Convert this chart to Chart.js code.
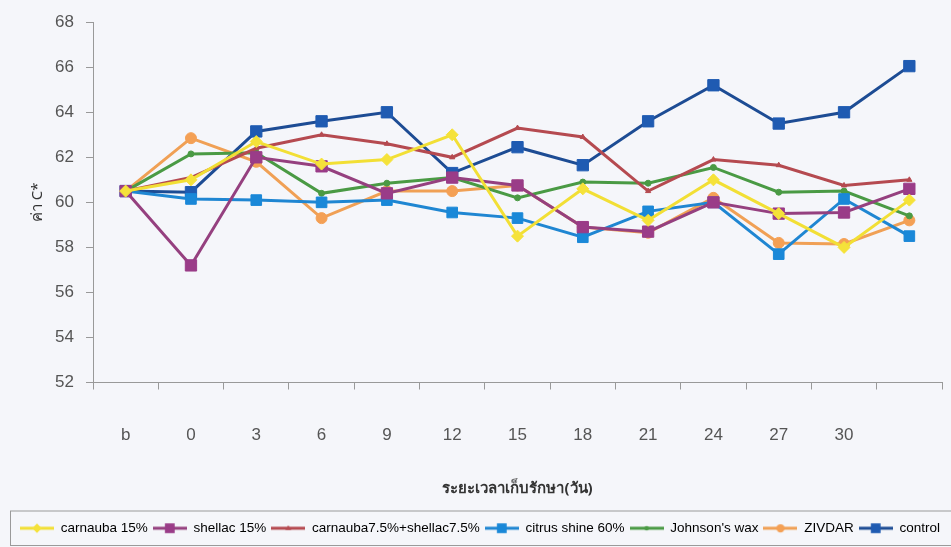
<!DOCTYPE html>
<html>
<head>
<meta charset="utf-8">
<script src="https://cdn.jsdelivr.net/npm/chart.js@4"></script>
<style>
html,body{margin:0;padding:0;background:#f5f6fa;}
#wrap{width:951px;height:547px;position:relative;}
</style>
</head>
<body>
<div id="wrap"><canvas id="c" width="951" height="547"></canvas></div>
<script>
const categories = ['b','0','3','6','9','12','15','18','21','24','27','30',''];
const seriesNames = ['carnauba 15%','shellac 15%','carnauba7.5%+shellac7.5%','citrus shine 60%',"Johnson's wax",'ZIVDAR','control'];
const carnauba15 = [60.5, 61.0, 62.7, 61.7, 61.9, 63.0, 58.5, 60.6, 59.2, 61.0, 59.5, 58.0, 60.1];
const shellac15  = [60.5, 57.2, 62.0, 61.6, 60.4, 61.1, 60.75, 58.9, 58.7, 60.0, 59.5, 59.55, 60.6];
const carnaubaShellac = [60.5, 61.1, 62.4, 63.0, 62.6, 62.0, 63.3, 62.9, 60.5, 61.9, 61.65, 60.75, 61.0];
const citrusShine = [60.5, 60.15, 60.1, 60.0, 60.1, 59.55, 59.3, 58.45, 59.6, 60.0, 57.7, 60.15, 58.5];
const johnsonsWax = [60.5, 62.15, 62.2, 60.4, 60.85, 61.1, 60.2, 60.9, 60.85, 61.55, 60.45, 60.5, 59.4];
const zivdar = [60.5, 62.85, 61.8, 59.3, 60.5, 60.5, 60.75, 58.9, 58.65, 60.2, 58.2, 58.15, 59.2];
const control = [60.5, 60.45, 63.15, 63.6, 64.0, 61.3, 62.45, 61.65, 63.6, 65.2, 63.5, 64.0, 66.05];
const yMin = 52, yMax = 68, yStep = 2;

const styles = [
  {line:'#f2df35', fill:'#f5e23a', ps:'rectRot', r:6},
  {line:'#95407f', fill:'#9a3c88', ps:'rect', r:8},
  {line:'#b54a50', fill:'#b54a50', ps:'triangle', r:3},
  {line:'#1f86d2', fill:'#1a88d8', ps:'rect', r:7.5},
  {line:'#4a9a44', fill:'#4a9a44', ps:'circle', r:3},
  {line:'#f0a055', fill:'#f4a055', ps:'circle', r:5.5},
  {line:'#1d4c94', fill:'#1f5bb2', ps:'rect', r:8}
];
const values = [carnauba15, shellac15, carnaubaShellac, citrusShine, johnsonsWax, zivdar, control];
const ICON_W = 34;

function legendIcon(s){
  const cv = document.createElement('canvas');
  cv.width = ICON_W; cv.height = 14;
  const g = cv.getContext('2d');
  const c = ICON_W/2;
  g.strokeStyle = s.line; g.lineWidth = 3;
  g.beginPath(); g.moveTo(0,7); g.lineTo(ICON_W,7); g.stroke();
  g.fillStyle = s.fill;
  const r = Math.min(s.r, 6.5);
  if (s.ps === 'rect'){ const h = r*0.75; g.fillRect(c-h,7-h,2*h,2*h); }
  else if (s.ps === 'rectRot'){ g.beginPath(); g.moveTo(c,7-r*0.8); g.lineTo(c+r*0.8,7); g.lineTo(c,7+r*0.8); g.lineTo(c-r*0.8,7); g.closePath(); g.fill(); }
  else if (s.ps === 'circle'){ g.beginPath(); g.arc(c,7,r*0.75,0,Math.PI*2); g.fill(); }
  else { g.beginPath(); g.moveTo(c,7-r); g.lineTo(c+r,7+r*0.6); g.lineTo(c-r,7+r*0.6); g.closePath(); g.fill(); }
  return cv;
}
const icons = styles.map(legendIcon);

const datasets = seriesNames.map((n,i)=>({
  label:n, data:values[i],
  borderColor:styles[i].line, backgroundColor:styles[i].fill,
  pointBackgroundColor:styles[i].fill, pointBorderColor:styles[i].fill,
  pointStyle:styles[i].ps, pointRadius:styles[i].r, pointBorderWidth:1,
  borderWidth:3, tension:0, fill:false
}));

const legendBorder = {
  id:'legendBorder',
  afterDraw(chart){
    const l = chart.legend; const ctx = chart.ctx;
    ctx.save(); ctx.strokeStyle = '#9a9a9a'; ctx.lineWidth = 1;
    ctx.strokeRect(10.5, l.top - 5.5, 950, l.height + 6);
    ctx.restore();
  }
};

new Chart(document.getElementById('c'), {
  type:'line',
  data:{labels:categories, datasets},
  plugins:[legendBorder],
  options:{
    responsive:false, animation:false,
    layout:{padding:{left:0,right:6,top:15,bottom:2}},
    plugins:{
      tooltip:{enabled:false},
      legend:{
        position:'bottom', align:'end',
        labels:{
          usePointStyle:true, pointStyleWidth:ICON_W, boxHeight:14, padding:5,
          color:'#555', font:{family:'Liberation Sans, Arial', size:13.5},
          generateLabels(chart){
            return chart.data.datasets.map((d,i)=>({
              text:d.label, pointStyle:icons[i], fillStyle:d.backgroundColor,
              strokeStyle:d.borderColor, lineWidth:0, datasetIndex:i, hidden:false
            }));
          }
        }
      }
    },
    scales:{
      x:{
        offset:true,
        grid:{offset:true, drawOnChartArea:false, tickLength:7, color:'#999', tickColor:'#999'},
        border:{color:'#999', width:1},
        ticks:{padding:36, color:'#555', font:{family:'Liberation Sans Narrow, Liberation Sans, Arial', size:17}, maxRotation:0, autoSkip:false},
        title:{display:true, text:'ระยะเวลาเก็บรักษา(วัน)', color:'#333', font:{family:'Noto Sans, DejaVu Sans, sans-serif', size:15, weight:'bold'}, padding:{top:18,bottom:19}},
        afterFit(s){ s.height = 134; }
      },
      y:{
        min:yMin, max:yMax,
        ticks:{stepSize:yStep, padding:12, color:'#555', font:{family:'Liberation Sans Narrow, Liberation Sans, Arial', size:17}},
        grid:{drawOnChartArea:false, tickLength:7, color:'#999', tickColor:'#999'},
        border:{color:'#999', width:1},
        title:{display:true, text:'ค่า C*', color:'#333', font:{family:'Noto Sans, DejaVu Sans, sans-serif', size:15}, padding:{top:29,bottom:0}},
        afterFit(s){ s.width = 93; }
      }
    }
  }
});
</script>
</body>
</html>
